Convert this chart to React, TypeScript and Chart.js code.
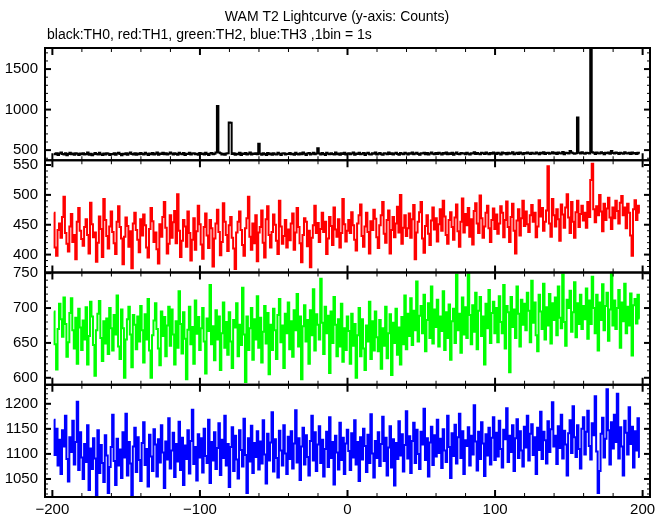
import { useEffect, useRef } from "react";
import { Chart, registerables } from "chart.js";

Chart.register(...registerables);

// ---- data (1 bin = 1 s, first bin at t = -199 s) ----
const START_TIME = -199;

const th0Counts = [
  455,448,462,441,458,470,452,446,460,438,451,467,449,457,443,462,454,440,459,448,
  461,447,453,470,444,456,438,449,463,452,445,466,450,441,458,447,462,455,439,452,
  448,460,443,457,466,451,437,455,449,462,444,458,471,453,446,460,442,457,450,464,
  452,445,468,456,441,459,449,463,447,455,470,443,458,451,466,448,460,445,456,472,
  458,447,461,453,442,467,455,449,463,440,456,452,469,446,458,461,448,455,443,464,
  451,459,445,468,452,441,457,463,449,455,470,1045,470,462,447,455,443,458,460,842,
  838,452,461,444,456,449,467,440,458,452,463,447,455,470,446,459,451,462,448,578,
  455,444,460,452,439,465,448,457,443,461,450,446,468,454,441,459,462,447,456,451,
  463,449,456,442,467,452,445,460,448,471,455,441,458,463,447,454,466,450,459,522,
  457,446,463,451,440,468,455,448,462,453,445,470,449,458,443,461,452,467,446,455,
  462,449,457,471,444,459,452,466,448,455,463,441,458,469,450,446,461,454,472,447,
  456,465,450,443,462,457,448,470,453,461,446,458,467,451,444,463,455,449,468,458,
  445,462,454,471,448,459,466,452,443,460,457,469,450,463,447,458,472,455,449,464,
  452,467,458,446,463,455,470,449,461,452,466,444,459,471,453,448,465,457,462,450,
  468,455,447,462,459,473,451,464,456,448,467,460,453,470,458,449,463,456,472,461,
  452,466,459,447,470,457,463,450,468,455,461,474,449,458,466,453,471,460,448,464,
  457,470,462,451,467,459,455,472,461,448,466,458,474,452,463,469,456,461,475,458,
  466,453,470,461,458,476,449,468,463,457,488,471,460,455,462,903,468,457,473,461,
  455,469,463,458,1745,474,466,452,471,460,457,474,463,449,468,461,470,456,489,465,
  458,472,463,451,469,460,455,474,462,457,467,453,470,459,464,451,468,460,
];

const th1Counts = [
  470,412,398,441,452,428,463,497,436,418,405,447,468,421,433,392,455,478,440,426,
  415,446,459,433,402,487,451,429,437,388,420,464,443,396,493,458,431,410,447,472,
  438,419,401,455,481,446,427,384,430,462,448,413,439,377,452,470,441,425,404,459,
  432,467,449,412,395,443,478,456,421,437,409,385,451,430,463,488,445,402,418,466,
  428,454,473,419,501,440,396,423,458,447,413,472,436,390,425,461,408,439,482,451,
  417,393,446,469,432,411,458,444,380,427,452,475,438,399,421,486,455,433,406,449,
  463,428,410,376,437,455,472,441,416,398,444,461,497,430,408,452,419,466,389,437,
  446,474,420,395,459,481,433,412,438,467,450,423,401,490,447,418,431,458,412,442,
  424,452,469,408,437,478,446,419,387,433,461,455,414,440,379,428,449,482,436,453,
  421,443,470,438,455,401,427,463,448,416,479,442,430,459,412,436,493,451,422,440,
  458,436,471,449,425,407,452,466,484,431,413,447,470,438,402,456,441,475,460,429,
  411,449,466,488,435,420,458,474,402,441,463,429,452,480,437,500,418,445,466,431,
  444,469,428,459,483,392,437,455,471,488,427,403,448,466,435,416,457,479,442,461,
  422,451,476,440,490,464,433,418,458,471,446,425,462,484,439,413,455,494,437,468,
  449,478,430,459,417,473,486,452,436,499,461,428,447,470,482,444,421,458,477,443,
  467,435,452,481,470,429,458,489,446,421,463,485,440,402,457,476,432,461,490,448,
  472,451,438,466,483,455,470,429,447,491,464,478,440,455,474,548,452,430,493,466,
  447,476,459,423,484,467,445,479,501,462,436,488,455,428,471,490,446,468,482,457,
  470,445,488,463,525,552,476,454,481,466,500,472,439,485,458,477,495,462,443,479,
  461,490,473,452,487,498,466,479,444,485,470,432,398,476,491,458,482,470,
];

const th2Counts = [
  695,648,612,670,706,684,659,715,677,630,651,693,714,668,642,686,620,699,672,640,
  682,655,701,619,660,709,688,647,603,668,692,710,657,624,681,649,685,634,700,671,
  639,690,662,718,645,627,698,671,600,655,684,702,662,615,690,676,641,688,652,703,
  668,622,691,655,713,639,600,661,682,707,670,642,618,695,660,687,631,675,702,646,
  698,662,619,681,643,724,677,635,694,656,598,669,702,648,673,620,711,663,687,640,
  671,700,652,606,685,667,733,648,674,625,697,655,688,611,664,708,643,680,633,694,
  652,614,683,672,707,631,676,647,729,662,594,688,640,671,700,626,684,655,717,643,
  686,622,666,703,649,693,605,676,640,699,668,627,690,713,651,675,614,692,664,708,
  641,681,630,697,668,720,645,688,598,674,704,652,683,620,697,661,727,639,691,676,
  655,742,679,634,702,664,689,607,695,650,716,676,631,684,645,706,623,671,640,688,
  667,620,692,646,677,600,661,700,631,684,642,611,675,652,709,627,681,639,695,658,
  638,683,613,671,646,702,628,664,691,604,679,650,699,633,672,619,687,648,718,641,
  692,660,714,647,696,668,738,652,689,703,664,719,638,683,707,657,731,649,698,673,
  712,645,688,667,724,640,694,657,705,626,681,699,650,748,668,692,636,715,662,701,
  657,749,690,648,704,666,722,641,696,716,660,688,619,706,671,726,650,693,709,664,
  700,651,717,680,664,733,642,703,694,608,716,673,698,657,731,692,645,712,676,706,
  668,722,696,651,739,679,708,661,638,719,695,670,735,655,701,675,720,649,707,683,
  715,661,731,686,671,748,680,646,712,700,725,666,694,737,658,707,677,719,670,703,
  684,728,656,711,677,745,700,664,719,639,708,683,734,668,703,722,653,698,749,675,
  711,670,700,726,643,708,681,735,664,702,675,721,632,704,713,678,719,685,
];

const th3Counts = [
  1168,1098,1150,1077,1128,1060,1147,1115,1176,1090,1045,1133,1104,1166,1079,1124,1204,1068,1143,1093,
  1050,1120,1084,1157,1028,1111,1070,1131,1091,1016,1147,1062,1118,1082,1044,1137,1097,1022,1074,1114,
  1178,1086,1038,1130,1077,1109,1052,1143,1093,1180,1057,1124,1081,1017,1115,1152,1064,1133,1088,1046,
  1122,1163,1078,1110,1035,1138,1095,1066,1149,1119,1055,1129,1083,1157,1103,1032,1125,1089,1171,1071,
  1107,1142,1054,1120,1085,1164,1068,1132,1038,1117,1090,1147,1061,1126,1188,1080,1114,1047,1139,1093,
  1131,1063,1150,1096,1082,1168,1042,1124,1087,1143,1070,1112,1161,1058,1128,1092,1176,1077,1120,1034,
  1114,1153,1066,1136,1089,1051,1147,1108,1075,1170,1098,1022,1131,1085,1156,1062,1122,1094,1145,1069,
  1125,1081,1167,1099,1041,1140,1087,1123,1183,1065,1129,1092,1053,1146,1107,1077,1157,1101,1060,1134,
  1090,1145,1071,1121,1187,1083,1131,1048,1115,1152,1079,1137,1094,1057,1126,1176,1087,1143,1066,1119,
  1155,1082,1128,1055,1110,1144,1074,1173,1092,1124,1039,1136,1103,1069,1162,1088,1132,1060,1121,1148,
  1106,1068,1141,1093,1167,1079,1124,1046,1133,1089,1150,1116,1064,1138,1082,1179,1101,1053,1126,1092,
  1143,1076,1120,1174,1086,1132,1057,1113,1155,1073,1129,1037,1122,1090,1165,1097,1139,1065,1118,1185,
  1091,1135,1062,1126,1162,1082,1148,1100,1070,1144,1119,1190,1088,1131,1055,1123,1154,1078,1137,1095,
  1168,1102,1130,1072,1149,1107,1084,1176,1114,1052,1141,1096,1158,1081,1133,1180,1092,1145,1060,1127,
  1116,1153,1077,1136,1099,1197,1125,1067,1144,1090,1163,1121,1056,1139,1097,1152,1079,1132,1173,1088,
  1142,1095,1166,1110,1073,1148,1129,1191,1084,1136,1104,1157,1066,1131,1169,1092,1145,1107,1075,1154,
  1113,1176,1087,1140,1159,1098,1133,1060,1152,1108,1184,1090,1144,1127,1081,1165,1104,1149,1203,1115,
  1136,1080,1155,1112,1178,1091,1146,1119,1057,1141,1167,1102,1195,1133,1094,1157,1110,1071,1150,1173,
  1099,1144,1186,1116,1089,1161,1137,1215,1105,1022,1066,1140,1172,1093,1130,1229,1147,1079,1163,1111,
  1178,1124,1220,1091,1153,1115,1057,1166,1142,1099,1193,1120,1154,1073,1145,1107,1171,1094,
];

const timeBins = th0Counts.map((_, i) => START_TIME + i);

const xTickValues = [-200, -100, 0, 100, 200];
const th0TickValues = [500, 1000, 1500];
const th1TickValues = [400, 450, 500, 550];
const th2TickValues = [600, 650, 700, 750];
const th3TickValues = [1050, 1100, 1150, 1200];

const TITLE = "WAM T2 Lightcurve (y-axis: Counts)";
const SUBTITLE = "black:TH0, red:TH1, green:TH2, blue:TH3 ,1bin = 1s";

// ---- panel configuration ----
const PANELS = [
  { id: "y0", label: "TH0", values: th0Counts, ticks: th0TickValues, color: "#000000", min: 375, max: 1760, minor: 100 },
  { id: "y1", label: "TH1", values: th1Counts, ticks: th1TickValues, color: "#ff0000", min: 370, max: 558, minor: 10 },
  { id: "y2", label: "TH2", values: th2Counts, ticks: th2TickValues, color: "#00ff00", min: 590, max: 751, minor: 10 },
  { id: "y3", label: "TH3", values: th3Counts, ticks: th3TickValues, color: "#0000ff", min: 1014, max: 1238, minor: 10 },
];

const FONT_FAMILY = '"Liberation Sans", Arial, Helvetica, sans-serif';

const formatNum = (v: number) => (v < 0 ? "\u2212" + Math.abs(v) : String(v));

const framePlugin = {
  id: "pgplotFrame",
  afterDraw(chart: any) {
    const ctx = chart.ctx;
    const { left, right } = chart.chartArea;
    const xs = chart.scales.x;
    ctx.save();
    ctx.strokeStyle = "#000";
    const seg = (x1: number, y1: number, x2: number, y2: number) => {
      ctx.beginPath();
      ctx.moveTo(x1, y1);
      ctx.lineTo(x2, y2);
      ctx.stroke();
    };
    PANELS.forEach((p) => {
      const s = chart.scales[p.id];
      const top = s.top;
      const bottom = s.bottom;
      // y ticks (left and right, inward)
      for (let v = Math.ceil(p.min / p.minor) * p.minor; v <= p.max; v += p.minor) {
        const major = p.ticks.includes(v);
        const y = s.getPixelForValue(v);
        ctx.lineWidth = major ? 2 : 1;
        const len = major ? 6 : 3;
        seg(left, y, left + len, y);
        seg(right, y, right - len, y);
      }
      // x ticks (top and bottom, inward)
      for (let v = -200; v <= 200; v += 20) {
        const major = v % 100 === 0;
        const x = xs.getPixelForValue(v);
        ctx.lineWidth = major ? 2 : 1;
        const len = major ? 7 : 4;
        seg(x, top, x, top + len);
        seg(x, bottom, x, bottom - len);
      }
      ctx.lineWidth = 2;
      ctx.strokeRect(left, top, right - left, bottom - top);
    });
    ctx.fillStyle = "#000";
    ctx.font = "14px " + FONT_FAMILY;
    ctx.textBaseline = "middle";
    ctx.textAlign = "center";
    ctx.fillText(TITLE, 337, 17);
    ctx.textAlign = "left";
    ctx.fillText(SUBTITLE, 47, 35);
    ctx.restore();
  },
};

export default function App() {
  const canvasRef = useRef<HTMLCanvasElement | null>(null);

  useEffect(() => {
    if (!canvasRef.current) return;
    const scales: any = {
      x: {
        type: "linear",
        position: "bottom",
        min: -205,
        max: 205,
        grid: { display: false, drawTicks: false },
        border: { display: false },
        afterBuildTicks: (scale: any) => {
          scale.ticks = xTickValues.map((v) => ({ value: v }));
        },
        afterFit: (scale: any) => {
          scale.height = 18;
        },
        ticks: {
          autoSkip: false,
          maxRotation: 0,
          padding: 4,
          color: "#000",
          font: { family: FONT_FAMILY, size: 15 },
          callback: (v: any) => formatNum(Number(v)),
        },
      },
    };
    // define bottom panel first: left-stacked boxes are placed in reverse order
    [...PANELS].reverse().forEach((p) => {
      scales[p.id] = {
        type: "linear",
        position: "left",
        stack: "panels",
        stackWeight: 1,
        min: p.min,
        max: p.max,
        grid: { display: false, drawTicks: false },
        border: { display: false },
        afterBuildTicks: (scale: any) => {
          scale.ticks = p.ticks.map((v) => ({ value: v }));
        },
        afterFit: (scale: any) => {
          scale.width = 45;
        },
        ticks: {
          autoSkip: false,
          padding: 7,
          color: "#000",
          font: { family: FONT_FAMILY, size: 15 },
          callback: (v: any) => formatNum(Number(v)),
        },
      };
    });

    const chart = new Chart(canvasRef.current, {
      type: "line",
      data: {
        datasets: PANELS.map((p) => ({
          label: p.label,
          data: p.values.map((v, i) => ({ x: timeBins[i], y: v })),
          yAxisID: p.id,
          xAxisID: "x",
          borderColor: p.color,
          backgroundColor: p.color,
          borderWidth: 2,
          pointRadius: 0,
          stepped: "middle",
          tension: 0,
          fill: false,
        })),
      },
      options: {
        animation: false,
        responsive: false,
        devicePixelRatio: 1,
        layout: { padding: { top: 48, right: 19, left: 0, bottom: 0 } },
        plugins: {
          legend: { display: false },
          tooltip: { enabled: false },
          title: { display: false },
        },
        scales,
      },
      plugins: [framePlugin],
    } as any);
    return () => chart.destroy();
  }, []);

  return (
    <div style={{ position: "fixed", left: 0, top: 0, width: 669, height: 515, background: "#fff" }}>
      <canvas ref={canvasRef} width={669} height={515} style={{ width: 669, height: 515, display: "block" }} />
    </div>
  );
}
